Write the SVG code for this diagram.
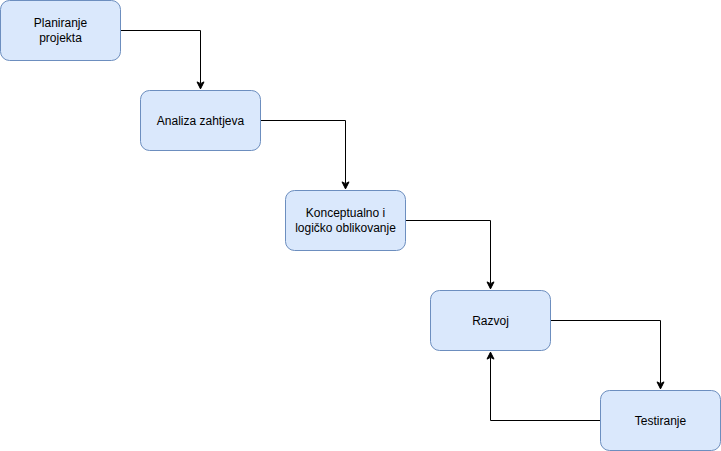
<svg xmlns="http://www.w3.org/2000/svg" width="721" height="451" viewBox="0 0 721 451">
  <style>
    .box { fill: #dae8fc; stroke: #6c8ebf; stroke-width: 1; }
    .lbl { font-family: "Liberation Sans", Arial, Helvetica, sans-serif; font-size: 12px; fill: #000000; text-anchor: middle; }
    .edge { fill: none; stroke: #000000; stroke-width: 1; stroke-miterlimit: 10; }
    .head { fill: #000000; stroke: #000000; stroke-width: 1; stroke-miterlimit: 10; }
  </style>
  <rect width="721" height="451" fill="#ffffff"/>

  <g id="connectors">
    <!-- Planiranje projekta -> Analiza zahtjeva -->
    <path class="edge" d="M 120.5 30.5 L 200.5 30.5 L 200.5 83.63"/>
    <path class="head" d="M 200.5 88.88 L 197 81.88 L 200.5 83.63 L 204 81.88 Z"/>
    <!-- Analiza zahtjeva -> Konceptualno i logičko oblikovanje -->
    <path class="edge" d="M 260.5 120.5 L 345.5 120.5 L 345.5 183.63"/>
    <path class="head" d="M 345.5 188.88 L 342 181.88 L 345.5 183.63 L 349 181.88 Z"/>
    <!-- Konceptualno i logičko oblikovanje -> Razvoj -->
    <path class="edge" d="M 405.5 220.5 L 490.5 220.5 L 490.5 283.63"/>
    <path class="head" d="M 490.5 288.88 L 487 281.88 L 490.5 283.63 L 494 281.88 Z"/>
    <!-- Razvoj -> Testiranje -->
    <path class="edge" d="M 550.5 320.5 L 660.5 320.5 L 660.5 383.63"/>
    <path class="head" d="M 660.5 388.88 L 657 381.88 L 660.5 383.63 L 664 381.88 Z"/>
    <!-- Testiranje -> Razvoj (feedback) -->
    <path class="edge" d="M 600.5 420.5 L 490.5 420.5 L 490.5 357.37"/>
    <path class="head" d="M 490.5 352.12 L 494 359.12 L 490.5 357.37 L 487 359.12 Z"/>
  </g>

  <g id="node-planiranje">
    <rect class="box" x="0.5" y="0.5" width="120" height="60" rx="9" ry="9"/>
    <text class="lbl" x="60.5" y="26.5">Planiranje</text>
    <text class="lbl" x="60.5" y="41.5">projekta</text>
  </g>

  <g id="node-analiza">
    <rect class="box" x="140.5" y="90.5" width="120" height="60" rx="9" ry="9"/>
    <text class="lbl" x="200.5" y="124.5">Analiza zahtjeva</text>
  </g>

  <g id="node-oblikovanje">
    <rect class="box" x="285.5" y="190.5" width="120" height="60" rx="9" ry="9"/>
    <text class="lbl" x="345.5" y="216.5">Konceptualno i</text>
    <text class="lbl" x="345.5" y="231.5">logičko oblikovanje</text>
  </g>

  <g id="node-razvoj">
    <rect class="box" x="430.5" y="290.5" width="120" height="60" rx="9" ry="9"/>
    <text class="lbl" x="490.5" y="324.5">Razvoj</text>
  </g>

  <g id="node-testiranje">
    <rect class="box" x="600.5" y="390.5" width="120" height="60" rx="9" ry="9"/>
    <text class="lbl" x="660.5" y="424.5">Testiranje</text>
  </g>
</svg>
